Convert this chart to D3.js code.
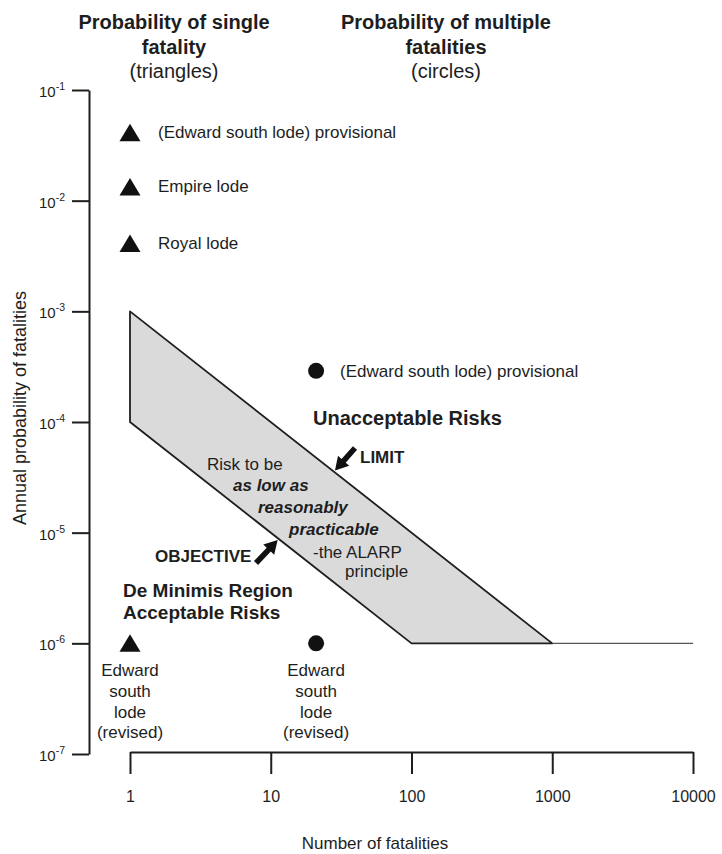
<!DOCTYPE html>
<html>
<head>
<meta charset="utf-8">
<script src="https://cdn.jsdelivr.net/npm/d3@7/dist/d3.min.js"></script>
<style>
  html, body { margin: 0; padding: 0; background: #fff; }
  svg { display: block; font-family: "Liberation Sans", Arial, Helvetica, sans-serif; }
</style>
</head>
<body>
<div id="chart"></div>
<script>
// ---------------- data ----------------
const xTickValues = [1, 10, 100, 1000, 10000];
const xTickLabels = ["1", "10", "100", "1000", "10000"];
const yTickExponents = [-1, -2, -3, -4, -5, -6, -7];

// single fatality (triangles)
const singleNames = ["(Edward south lode) provisional", "Empire lode", "Royal lode", "Edward south lode (revised)"];
const singleN = [1, 1, 1, 1];
const singleP = [0.041, 0.0133, 0.0041, 1e-6];

// multiple fatalities (circles)
const multiNames = ["(Edward south lode) provisional", "Edward south lode (revised)"];
const multiN = [21, 21];
const multiP = [2.9e-4, 1e-6];

// criterion lines
const limitN = [1, 1000];
const limitP = [1e-3, 1e-6];
const objectiveN = [1, 100];
const objectiveP = [1e-4, 1e-6];
const floorN = [1000, 10000];
const floorP = [1e-6, 1e-6];

const revisedLines = ["Edward", "south", "lode", "(revised)"];
const titleSingle = ["Probability of single", "fatality", "(triangles)"];
const titleMulti = ["Probability of multiple", "fatalities", "(circles)"];
const alarpLines = ["Risk to be", "as low as", "reasonably", "practicable", "-the ALARP", "principle"];

// ---------------- layout ----------------
const W = 722, H = 854;
const ink = "#1e1e1e";
const svg = d3.select("#chart").append("svg").attr("width", W).attr("height", H);

const x = d3.scaleLog().domain([1, 10000]).range([130, 693]);
const y = d3.scaleLog().domain([1e-7, 1e-1]).range([754, 90]);

// ---------------- titles ----------------
function title(lines, cx) {
  const t = svg.append("g").attr("fill", ink);
  const ys = [29, 54, 78];
  lines.forEach((s, i) => {
    t.append("text").attr("x", cx).attr("y", ys[i]).attr("text-anchor", "middle")
      .attr("font-size", 20).attr("font-weight", i < 2 ? "bold" : "normal").text(s);
  });
}
title(titleSingle, 174);
title(titleMulti, 446);

// ---------------- axes ----------------
const yAxis = d3.axisLeft(y).tickValues(yTickExponents.map(e => Math.pow(10, e)))
  .tickSize(17).tickSizeOuter(0).tickFormat("");
const gy = svg.append("g").attr("transform", "translate(89,0)").call(yAxis);
gy.selectAll("path, line").attr("stroke", ink).attr("stroke-width", 2);

yTickExponents.forEach(e => {
  const t = svg.append("text").attr("x", 65).attr("y", y(Math.pow(10, e)) + 7)
    .attr("text-anchor", "end").attr("fill", ink).attr("font-size", 15);
  t.append("tspan").text("10");
  t.append("tspan").attr("font-size", 10.5).attr("dy", -7).text(String(e));
});

const xAxis = d3.axisBottom(x).tickValues(xTickValues).tickSize(22).tickSizeOuter(0)
  .tickPadding(17).tickFormat((d, i) => xTickLabels[i]);
const gx = svg.append("g").attr("transform", "translate(0,752)").call(xAxis);
gx.selectAll("path, line").attr("stroke", ink).attr("stroke-width", 2);
gx.selectAll("text").attr("font-size", 16).attr("fill", ink).attr("font-family", null);

svg.append("text").attr("x", 375).attr("y", 849).attr("text-anchor", "middle")
  .attr("font-size", 17).attr("fill", ink).text("Number of fatalities");
svg.append("text").attr("transform", "translate(26,408) rotate(-90)").attr("text-anchor", "middle")
  .attr("font-size", 18).attr("fill", ink).text("Annual probability of fatalities");

// ---------------- ALARP band ----------------
const bandPts = limitN.map((n, i) => [x(n), y(limitP[i])])
  .concat(objectiveN.map((n, i) => [x(n), y(objectiveP[i])]).reverse());
svg.append("path").attr("d", d3.line()(bandPts) + "Z")
  .attr("fill", "#dadada").attr("stroke", ink).attr("stroke-width", 1.8)
  .attr("stroke-linejoin", "round");
svg.append("path").attr("d", d3.line()(floorN.map((n, i) => [x(n), y(floorP[i])])))
  .attr("stroke", "#555").attr("stroke-width", 1.2).attr("fill", "none");

// ---------------- marks ----------------
function triPath(cx, cy) {
  return `M${cx},${cy - 9} L${cx + 10.5},${cy + 8.5} L${cx - 10.5},${cy + 8.5} Z`;
}
function revisedLabel(cx, cy) {
  revisedLines.forEach((s, k) => {
    svg.append("text").attr("x", cx).attr("y", cy + 33 + k * 20.7).attr("text-anchor", "middle")
      .attr("font-size", 17).attr("fill", ink).text(s);
  });
}
singleN.forEach((n, i) => {
  const cx = x(n), cy = y(singleP[i]);
  svg.append("path").attr("d", triPath(cx, cy)).attr("fill", "#111");
  if (singleP[i] > 1e-5) {
    svg.append("text").attr("x", cx + 28).attr("y", cy + 5.5).attr("font-size", 17)
      .attr("fill", ink).text(singleNames[i]);
  } else {
    revisedLabel(cx, cy);
  }
});
multiN.forEach((n, i) => {
  const cx = x(n), cy = y(multiP[i]);
  svg.append("circle").attr("cx", cx).attr("cy", cy).attr("r", 8).attr("fill", "#111");
  if (multiP[i] > 1e-5) {
    svg.append("text").attr("x", cx + 24).attr("y", cy + 6).attr("font-size", 17)
      .attr("fill", ink).text(multiNames[i]);
  } else {
    revisedLabel(cx, cy);
  }
});

// ---------------- annotations ----------------
function arrow(tip, tail) {
  const dx = tip[0] - tail[0], dy = tip[1] - tail[1];
  const L = Math.hypot(dx, dy), ux = dx / L, uy = dy / L, px = -uy, py = ux;
  const hl = 13, hw = 7.5, sw = 2.8;
  const bx = tip[0] - ux * hl, by = tip[1] - uy * hl;
  const pts = [
    [tail[0] + px * sw, tail[1] + py * sw],
    [bx + px * sw, by + py * sw],
    [bx + px * hw, by + py * hw],
    tip,
    [bx - px * hw, by - py * hw],
    [bx - px * sw, by - py * sw],
    [tail[0] - px * sw, tail[1] - py * sw]
  ];
  svg.append("path").attr("d", d3.line()(pts) + "Z").attr("fill", "#111");
}
const limTipN = 28.6;
arrow([x(limTipN), y(1e-3 / limTipN) - 2], [355, 448]);
const objTipN = 11.2;
arrow([x(objTipN), y(1e-4 / objTipN) + 2], [256, 563]);

svg.append("text").attr("x", 313).attr("y", 425).attr("font-size", 20).attr("font-weight", "bold")
  .attr("fill", ink).text("Unacceptable Risks");
svg.append("text").attr("x", 360).attr("y", 463).attr("font-size", 17).attr("font-weight", "bold")
  .attr("fill", ink).text("LIMIT");
svg.append("text").attr("x", 155).attr("y", 562).attr("font-size", 17).attr("font-weight", "bold")
  .attr("fill", ink).text("OBJECTIVE");
svg.append("text").attr("x", 123).attr("y", 597).attr("font-size", 19).attr("font-weight", "bold")
  .attr("fill", ink).text("De Minimis Region");
svg.append("text").attr("x", 123).attr("y", 619).attr("font-size", 19).attr("font-weight", "bold")
  .attr("fill", ink).text("Acceptable Risks");

const alarpX = [207, 233, 258, 289, 313, 345];
const alarpY = [470, 491, 513, 535, 558, 577];
alarpLines.forEach((s, i) => {
  const emph = i >= 1 && i <= 3;
  svg.append("text").attr("x", alarpX[i]).attr("y", alarpY[i]).attr("font-size", 17)
    .attr("font-weight", emph ? "bold" : "normal").attr("font-style", emph ? "italic" : "normal")
    .attr("fill", ink).text(s);
});
</script>
</body>
</html>
